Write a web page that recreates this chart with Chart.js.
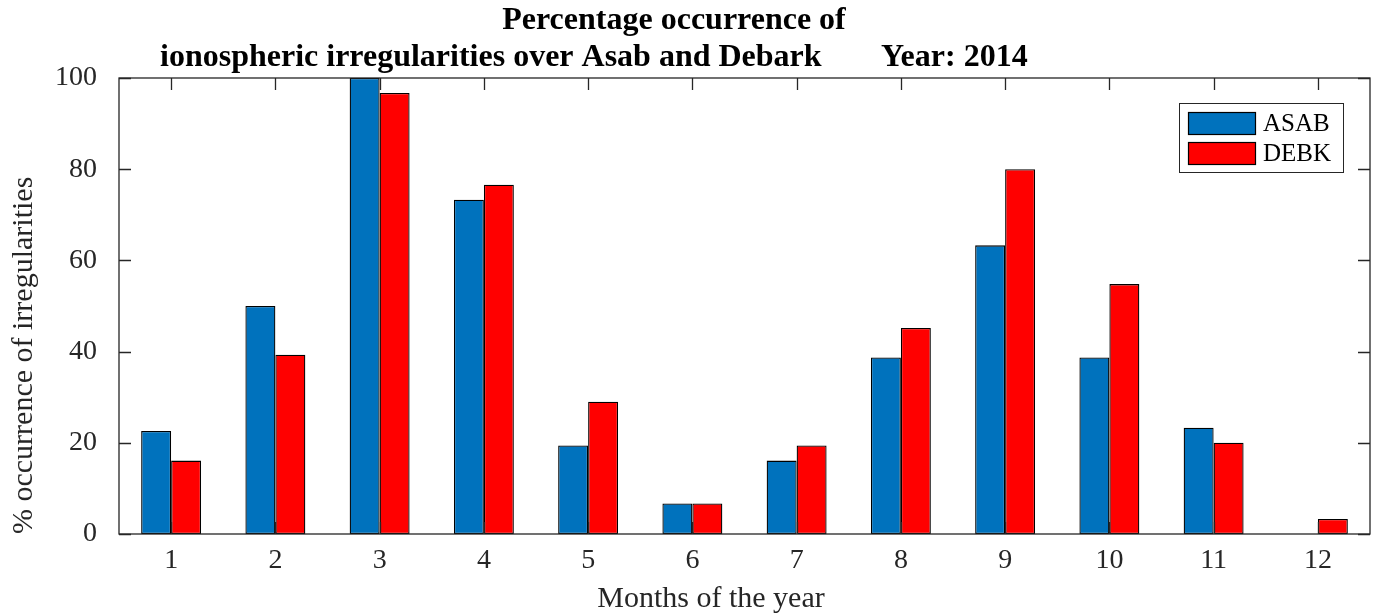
<!DOCTYPE html>
<html>
<head>
<meta charset="utf-8">
<script src="https://cdn.jsdelivr.net/npm/chart.js@4/dist/chart.umd.min.js"></script>
<style>
  body { margin: 0; background: #fff; }
  #ItemA { display: block; }
</style>
</head>
<body>
<canvas id="ItemA" width="1376" height="615"></canvas>
<script>
var viewport = document.getElementById("ItemA");
var ctx = viewport.getContext("2d");

// months of the year
var months = ['1', '2', '3', '4', '5', '6', '7', '8', '9', '10', '11', '12'];
// % occurrence of irregularities, 2014
var asab = [22.6, 50, 100, 73.3, 19.4, 6.7, 16.1, 38.7, 63.3, 38.7, 23.3, 0];
var debk = [16.1, 39.3, 96.7, 76.6, 29, 6.7, 19.4, 45.2, 80, 54.8, 20, 3.3];
var yTicks = [0, 20, 40, 60, 80, 100];

var axisColor = '#262626';
var serif = '"Liberation Serif", "Times New Roman", serif';

// matlab style box with ticks pointing inwards, legend and titles
var matlabBox = {
    id: 'matlabBox',
    afterDraw: function(chart) {
        var c = chart.ctx;
        var a = chart.chartArea;
        var xs = chart.scales.x;
        var ys = chart.scales.y;
        var tl = 12;
        c.save();
        c.strokeStyle = axisColor;
        c.lineWidth = 1.3;
        c.strokeRect(a.left, a.top, a.right - a.left, a.bottom - a.top);
        c.beginPath();
        for (var i = 0; i < months.length; i++) {
            var px = Math.round(xs.getPixelForTick(i)) + 0.5;
            c.moveTo(px, a.bottom); c.lineTo(px, a.bottom - tl);
            c.moveTo(px, a.top); c.lineTo(px, a.top + tl);
        }
        yTicks.forEach(function(v) {
            var py = Math.round(ys.getPixelForValue(v)) + 0.5;
            c.moveTo(a.left, py); c.lineTo(a.left + tl, py);
            c.moveTo(a.right, py); c.lineTo(a.right - tl, py);
        });
        c.stroke();

        // legend
        var lx = a.right - 191, ly = a.top + 25;
        c.fillStyle = '#fff';
        c.fillRect(lx, ly, 164, 69);
        c.strokeStyle = axisColor;
        c.lineWidth = 1;
        c.strokeRect(lx + 0.5, ly + 0.5, 164, 69);
        c.font = '25px ' + serif;
        c.textBaseline = 'middle';
        c.textAlign = 'left';
        chart.data.datasets.forEach(function(ds, k) {
            var sy = ly + 9 + k * 30;
            c.fillStyle = ds.backgroundColor;
            c.fillRect(lx + 9, sy, 67, 22);
            c.strokeStyle = '#000';
            c.lineWidth = 1.2;
            c.strokeRect(lx + 9.5, sy + 0.5, 67, 22);
            c.fillStyle = '#000';
            c.fillText(ds.label, lx + 84, sy + 12);
        });

        // titles
        c.fillStyle = '#000';
        c.textBaseline = 'alphabetic';
        c.font = 'bold 32px ' + serif;
        c.textAlign = 'center';
        c.fillText('Percentage occurrence of', 674, 29);
        c.textAlign = 'left';
        c.fillText('ionospheric irregularities over Asab and Debark', 160, 66);
        c.fillText('Year: 2014', 881, 66);

        c.fillStyle = axisColor;
        c.font = '30px ' + serif;
        c.textAlign = 'center';
        c.fillText('Months of the year', 711, 607);
        c.restore();
    }
};

var asabGraph = {
    label: 'ASAB',
    data: asab,
    backgroundColor: '#0072BD',
    borderColor: '#000',
    borderWidth: 1.3,
    borderSkipped: false,
    categoryPercentage: 0.575,
    barPercentage: 1
};

var debkGraph = {
    label: 'DEBK',
    data: debk,
    backgroundColor: '#FF0000',
    borderColor: '#000',
    borderWidth: 1.3,
    borderSkipped: false,
    categoryPercentage: 0.575,
    barPercentage: 1
};

var chartData = {
    type: 'bar',
    data: {
        labels: months,
        datasets: [asabGraph, debkGraph]
    },
    options: {
        responsive: false,
        animation: false,
        layout: { padding: { top: 78, right: 6, left: 0, bottom: 0 } },
        plugins: {
            legend: { display: false },
            title: { display: false },
            tooltip: { enabled: false }
        },
        scales: {
            x: {
                grid: { display: false, drawTicks: false },
                border: { display: false },
                ticks: {
                    color: axisColor,
                    font: { family: serif, size: 28 },
                    padding: 10,
                    maxRotation: 0
                },
                afterFit: function(scale) { scale.height = 81; }
            },
            y: {
                min: 0,
                max: 100,
                grid: { display: false, drawTicks: false },
                border: { display: false },
                ticks: {
                    stepSize: 20,
                    color: axisColor,
                    font: { family: serif, size: 28 },
                    padding: 22
                },
                title: {
                    display: true,
                    text: '% occurrence of irregularities',
                    color: axisColor,
                    align: 'start',
                    font: { family: serif, size: 30 },
                    padding: { top: 6, bottom: 0 }
                },
                afterFit: function(scale) { scale.width = 119; }
            }
        }
    },
    plugins: [matlabBox]
};

var myChart = new Chart(ctx, chartData);
</script>
</body>
</html>
